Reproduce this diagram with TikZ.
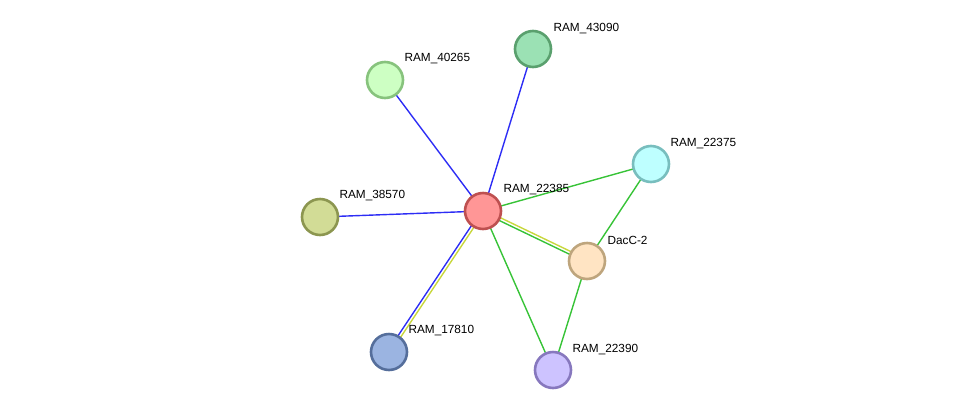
\documentclass[tikz,border=0pt]{standalone}
\usepackage{fontspec}
\setmainfont{Liberation Sans}
\usetikzlibrary{calc,backgrounds}
\definecolor{cRed}{RGB}{255,150,150}\definecolor{bRed}{RGB}{190,80,80}
\definecolor{cTeal}{RGB}{155,225,180}\definecolor{bTeal}{RGB}{90,160,110}
\definecolor{cLime}{RGB}{205,255,195}\definecolor{bLime}{RGB}{135,195,125}
\definecolor{cCyan}{RGB}{190,255,255}\definecolor{bCyan}{RGB}{120,190,190}
\definecolor{cOlive}{RGB}{210,220,150}\definecolor{bOlive}{RGB}{140,150,80}
\definecolor{cPeach}{RGB}{255,228,195}\definecolor{bPeach}{RGB}{190,165,125}
\definecolor{cBlue}{RGB}{155,180,225}\definecolor{bBlue}{RGB}{85,110,155}
\definecolor{cLav}{RGB}{205,195,255}\definecolor{bLav}{RGB}{135,120,190}
\definecolor{eBlue}{RGB}{45,45,245}
\definecolor{eGreen}{RGB}{55,195,55}
\definecolor{eYellow}{RGB}{200,215,60}
\tikzset{
  prot/.style={circle, minimum size=36pt, inner sep=0pt, line width=2.6pt},
  lbl/.style={anchor=west, font=\fontsize{11.8}{13}\selectfont},
  edge/.style={line width=1.4pt}
}
\begin{document}
\begin{tikzpicture}[x=1pt, y=-1pt]
  \useasboundingbox (0,0) rectangle (975,416);
  \node[prot, fill=cRed, draw=bRed] (n22385) at (483,211) {};
  \node[prot, fill=cTeal, draw=bTeal] (n43090) at (533,49) {};
  \node[prot, fill=cLime, draw=bLime] (n40265) at (385,80) {};
  \node[prot, fill=cCyan, draw=bCyan] (n22375) at (651,164) {};
  \node[prot, fill=cOlive, draw=bOlive] (n38570) at (320,217) {};
  \node[prot, fill=cPeach, draw=bPeach] (dacc) at (587,261) {};
  \node[prot, fill=cBlue, draw=bBlue] (n17810) at (389,352) {};
  \node[prot, fill=cLav, draw=bLav] (n22390) at (553,370) {};
  \node[lbl] (t22385) at (500,190) {RAM\_22385};
  \node[lbl] (t43090) at (550,29) {RAM\_43090};
  \node[lbl] (t40265) at (401,59) {RAM\_40265};
  \node[lbl] (t22375) at (667,144) {RAM\_22375};
  \node[lbl] (t38570) at (336,196) {RAM\_38570};
  \node[lbl] (tdacc) at (604,240) {DacC-2};
  \node[lbl] (t17810) at (405,331) {RAM\_17810};
  \node[lbl] (t22390) at (569,350) {RAM\_22390};
  \begin{pgfonlayer}{background}
    \draw[edge, eBlue] (n22385.center) -- (n43090.center);
    \draw[edge, eBlue] (n22385.center) -- (n40265.center);
    \draw[edge, eBlue] (n22385.center) -- (n38570.center);
    \draw[edge, eYellow] ($(n22385.center)!1.5pt!90:(n17810.center)$) -- ($(n17810.center)!1.5pt!-90:(n22385.center)$);
    \draw[edge, eBlue] ($(n22385.center)!1.5pt!-90:(n17810.center)$) -- ($(n17810.center)!1.5pt!90:(n22385.center)$);
    \draw[edge, eGreen] (n22385.center) -- (n22375.center);
    \draw[edge, eYellow] ($(n22385.center)!1.5pt!90:(dacc.center)$) -- ($(dacc.center)!1.5pt!-90:(n22385.center)$);
    \draw[edge, eGreen] ($(n22385.center)!1.5pt!-90:(dacc.center)$) -- ($(dacc.center)!1.5pt!90:(n22385.center)$);
    \draw[edge, eGreen] (n22385.center) -- (n22390.center);
    \draw[edge, eGreen] (n22375.center) -- (dacc.center);
    \draw[edge, eGreen] (dacc.center) -- (n22390.center);
  \end{pgfonlayer}
\end{tikzpicture}
\end{document}
